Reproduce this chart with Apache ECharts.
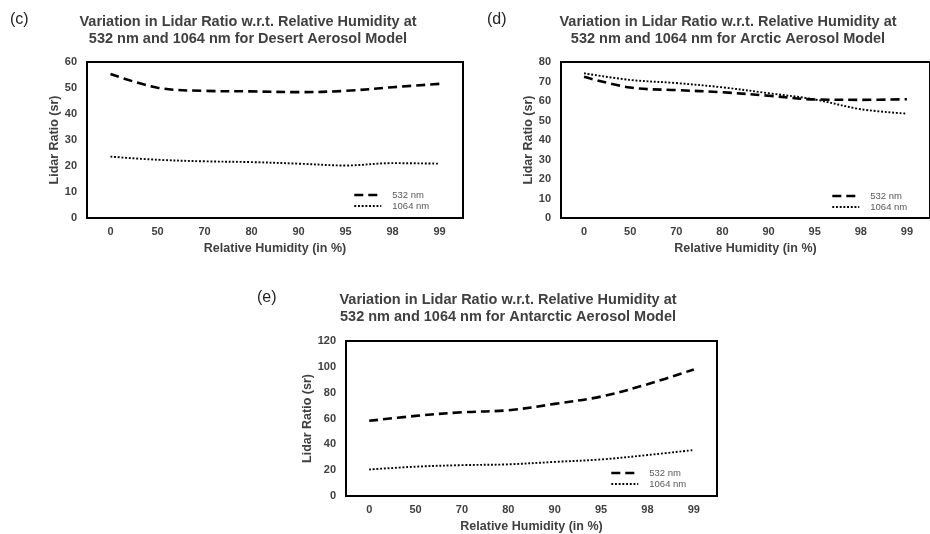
<!DOCTYPE html>
<html>
<head>
<meta charset="utf-8">
<script src="https://cdn.jsdelivr.net/npm/echarts@6/dist/echarts.min.js"></script>
<style>
html,body{margin:0;padding:0;background:#fff;}
#chart{width:930px;height:534px;}
</style>
</head>
<body>
<div id="chart"></div>
<script>
const humidity = ['0', '50', '70', '80', '90', '95', '98', '99'];
const desert532 = [55.4, 50.1, 48.9, 48.7, 48.4, 48.9, 50.3, 51.6];
const desert1064 = [23.6, 22.4, 21.8, 21.5, 20.9, 20.2, 21.1, 20.9];
const arctic532 = [72.4, 66.9, 65.6, 64.5, 62.7, 60.8, 60.6, 60.9];
const arctic1064 = [74.2, 70.8, 69.2, 67.0, 64.0, 60.8, 55.8, 53.5];
const antarctic532 = [58.2, 62.0, 64.8, 66.4, 71.3, 77.0, 86.5, 98.0];
const antarctic1064 = [20.5, 22.7, 23.9, 24.5, 26.4, 28.3, 31.7, 35.6];
const panelTitles = [
  'Variation in Lidar Ratio w.r.t. Relative Humidity at\n532 nm and 1064 nm for Desert Aerosol Model',
  'Variation in Lidar Ratio w.r.t. Relative Humidity at\n532 nm and 1064 nm for Arctic Aerosol Model',
  'Variation in Lidar Ratio w.r.t. Relative Humidity at\n532 nm and 1064 nm for Antarctic Aerosol Model'
];
const panelLabels = ['(c)', '(d)', '(e)'];
const yMax = [60, 80, 120];
const yStep = [10, 10, 20];
const seriesNames = ['532 nm', '1064 nm'];

const FONT = 'Liberation Sans, Arial, sans-serif';
const grids = [
  {left: 87, top: 62, width: 376, height: 156},
  {left: 561, top: 62, width: 377, height: 156},
  {left: 346, top: 341, width: 371, height: 156}
];
const titlePos = [
  {x: 248, y: 13.5},
  {x: 728, y: 13.5},
  {x: 508, y: 291.5}
];
const labelPos = [
  {x: 10, y: 11},
  {x: 487, y: 11},
  {x: 257, y: 289}
];
const legendPos = [
  {left: 353, top: 190},
  {left: 831, top: 191},
  {left: 610, top: 468}
];

const dashStyle = {color: '#000', width: 2.6, type: [9, 5]};
const dotStyle = {color: '#000', width: 1.9, type: [1.9, 1.8]};

const data532 = [desert532, arctic532, antarctic532];
const data1064 = [desert1064, arctic1064, antarctic1064];

const option = {
  animation: false,
  backgroundColor: '#fff',
  title: [],
  grid: [],
  xAxis: [],
  yAxis: [],
  legend: [],
  series: []
};

for (let i = 0; i < 3; i++) {
  option.title.push({
    text: panelTitles[i],
    left: titlePos[i].x,
    top: titlePos[i].y,
    padding: 0,
    textAlign: 'center',
    textStyle: {fontFamily: FONT, fontSize: 14.5, fontWeight: 'bold', color: '#404040', lineHeight: 17}
  });
  option.title.push({
    text: panelLabels[i],
    left: labelPos[i].x,
    top: labelPos[i].y,
    padding: 0,
    textStyle: {fontFamily: FONT, fontSize: 16, fontWeight: 'normal', color: '#222', lineHeight: 18}
  });
  option.grid.push(Object.assign({show: true, borderColor: '#000', borderWidth: 2, containLabel: false}, grids[i]));
  option.xAxis.push({
    type: 'category',
    gridIndex: i,
    data: humidity,
    boundaryGap: true,
    name: 'Relative Humidity (in %)',
    nameLocation: 'middle',
    nameGap: 24,
    nameTextStyle: {fontFamily: FONT, fontSize: 12.5, fontWeight: 'bold', color: '#404040'},
    axisLine: {show: false},
    axisTick: {show: false},
    splitLine: {show: false},
    axisLabel: {fontFamily: FONT, fontSize: 11, fontWeight: 'bold', color: '#404040', margin: 8}
  });
  option.yAxis.push({
    type: 'value',
    gridIndex: i,
    min: 0,
    max: yMax[i],
    interval: yStep[i],
    name: 'Lidar Ratio (sr)',
    nameLocation: 'middle',
    nameGap: 22,
    nameTextStyle: {fontFamily: FONT, fontSize: 12.5, fontWeight: 'bold', color: '#404040'},
    axisLine: {show: false},
    axisTick: {show: false},
    splitLine: {show: false},
    axisLabel: {fontFamily: FONT, fontSize: 11, fontWeight: 'bold', color: '#404040', margin: 10}
  });
  option.legend.push({
    orient: 'vertical',
    left: legendPos[i].left,
    top: legendPos[i].top,
    padding: 0,
    itemWidth: 27,
    itemHeight: 10,
    itemGap: 1,
    data: [
      {name: seriesNames[0], lineStyle: dashStyle},
      {name: seriesNames[1], lineStyle: dotStyle}
    ],
    itemStyle: {opacity: 0, borderWidth: 0},
    textStyle: {fontFamily: FONT, fontSize: 9.5, color: '#595959', padding: [0, 0, 0, 6]}
  });
  option.series.push({
    name: seriesNames[0],
    type: 'line',
    xAxisIndex: i,
    yAxisIndex: i,
    data: data532[i],
    smooth: 0.35,
    symbol: 'none',
    showSymbol: false,
    lineStyle: dashStyle,
    itemStyle: {color: '#000'}
  });
  option.series.push({
    name: seriesNames[1],
    type: 'line',
    xAxisIndex: i,
    yAxisIndex: i,
    data: data1064[i],
    smooth: 0.35,
    symbol: 'none',
    showSymbol: false,
    lineStyle: dotStyle,
    itemStyle: {color: '#000'}
  });
}

const chart = echarts.init(document.getElementById('chart'), null, {renderer: 'canvas'});
chart.setOption(option);
</script>
</body>
</html>
